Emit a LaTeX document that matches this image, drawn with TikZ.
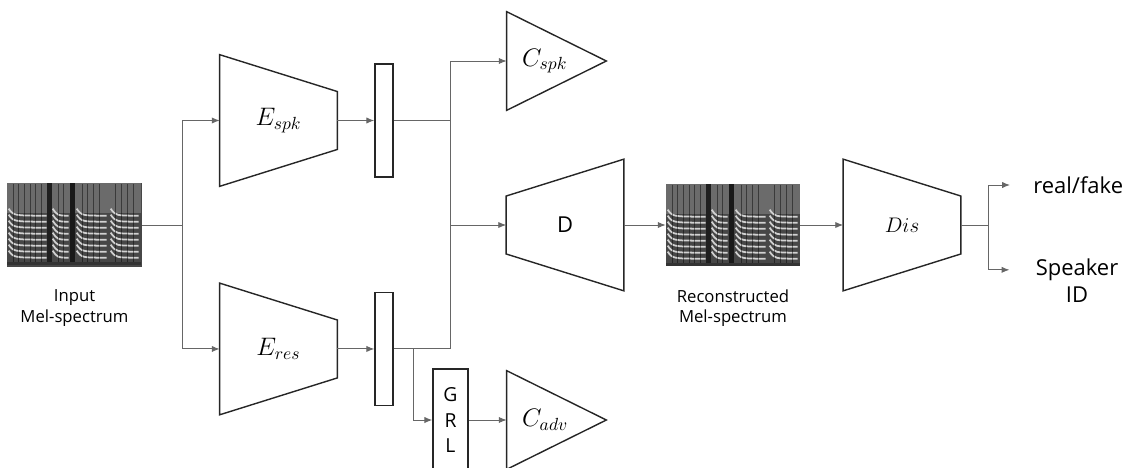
\documentclass[tikz,border=0pt]{standalone}
\usepackage{fontspec}
\setmainfont{Open Sans}
\usetikzlibrary{arrows.meta, calc, positioning}

\begin{document}
\begin{tikzpicture}[
        x = 0.02cm, y = -0.02cm,
        on grid,
        >= {Latex[length = 4.5pt, width = 3.6pt]},
        conn/.style = {draw = black!60, line width = 0.55pt},
        outline/.style = {draw = black!85, line width = 0.8pt},
        block/.style = {minimum width = 2.34cm, minimum height = 2.62cm, inner sep = 0pt,
                        font = \fontsize{14}{16}\selectfont},
        bar/.style = {draw = black!85, line width = 0.8pt, minimum width = 0.36cm,
                      minimum height = 2.26cm, inner sep = 0pt},
        tri/.style = {minimum height = 1.96cm, text width = 1.38cm, inner xsep = 0.3cm,
                      inner ysep = 0pt, align = left, font = \fontsize{14}{16}\selectfont},
        spec/.style = {fill = black!72, minimum width = 2.7cm, minimum height = 1.68cm, inner sep = 0pt},
        caption/.style = {font = \fontsize{9.5}{11.5}\selectfont, align = center},
        result/.style = {font = \fontsize{12.5}{15.5}\selectfont, align = center, inner sep = 0pt}
    ]

    \useasboundingbox (0,0) rectangle (1126,467);

    \node[spec] (inspec) at (74.5,225) {};
    \node[caption] (incap) [below = 1.66cm of inspec] {Input\\Mel-spectrum};

    \node[block] (espk) at (278.5,120.5) {$E_{spk}$};
    \node[block] (eres) [below = 4.57cm of espk] {$E_{res}$};

    \node[bar] (barspk) [right = 2.11cm of espk] {};
    \node[bar] (barres) [right = 2.11cm of eres] {};

    \coordinate (split) at (182,225);
    \coordinate (hub)   at (450,225);
    \coordinate (tap)   at (413,349);

    \node[tri] (cspk) at (556.5,61) {$C_{spk}$};
    \node[block, font = \fontsize{12.5}{15}\selectfont] (dec) at (565,225) {D};

    \node[bar, minimum width = 0.7cm, minimum height = 2.04cm, align = center,
          font = \fontsize{11}{14.7}\selectfont] (grl) at (450.5,420) {G\\R\\L};
    \node[tri] (cadv) at (556.5,420) {$C_{adv}$};

    \node[spec, minimum width = 2.68cm, minimum height = 1.64cm] (recspec) at (733,225) {};
    \node[caption] (reccap) [below = 1.66cm of recspec] {Reconstructed\\Mel-spectrum};

    \node[block, font = \fontsize{13}{15}\selectfont] (dis) at (902,225) {$Dis$};
    \coordinate (fork) at (988,225);

    \node[result, anchor = west] (real) at (1033,185) {real/fake};
    \node[result] (spkid) at (1077,281) {Speaker\\ID};

    % spectrogram texture
    \foreach \s in {inspec, recspec} {
        \begin{scope}[shift = {(\s.north west)}]
            \fill[black!58] (0,0) rectangle (134,30);
            \foreach \a/\b in {2/40, 46/62, 70/100, 104/132}
                \foreach \y [evaluate = \y as \o using 0.1 + (\y - 30)/95] in {33,39,...,77}
                    \draw[black!18, opacity = \o, line width = 1pt]
                        (\a,\y-7) .. controls (\a+5,\y) .. (\b,\y);
            \foreach \x in {7,12,18,24,29,35,52,57,76,81,87,93,109,115,121,127}
                \draw[black, opacity = 0.45, line width = 0.8pt] (\x,1) -- (\x,81);
            \fill[black!88] (40,0) rectangle (45,82);
            \fill[black!90] (63,0) rectangle (68,82);
            \fill[black!80] (0,79) rectangle (134,82);
        \end{scope}
    }

    % shapes
    \foreach \n in {espk, eres, dis}
        \draw[outline] (\n.north west) -- ($(\n.north east)!.28!(\n.south east)$)
            -- ($(\n.north east)!.72!(\n.south east)$) -- (\n.south west) -- cycle;
    \draw[outline] (dec.north east) -- (dec.south east)
        -- ($(dec.north west)!.72!(dec.south west)$) -- ($(dec.north west)!.28!(dec.south west)$) -- cycle;
    \foreach \n in {cspk, cadv}
        \draw[outline] (\n.north west) -- (\n.east) -- (\n.south west) -- cycle;

    % connectors
    \draw[conn] (inspec.east) -- (split);
    \draw[conn, ->] (split) |- (espk.west);
    \draw[conn, ->] (split) |- (eres.west);
    \draw[conn, ->] (espk.east) -- (barspk.west);
    \draw[conn, ->] (eres.east) -- (barres.west);
    \draw[conn] (barspk.east) -| (hub);
    \draw[conn] (barres.east) -| (hub);
    \draw[conn, ->] (hub) |- (cspk.west);
    \draw[conn, ->] (hub) -- (dec.west);
    \draw[conn, ->] (tap) |- (grl.west);
    \draw[conn, ->] (grl.east) -- (cadv.west);
    \draw[conn, ->] (dec.east) -- (recspec.west);
    \draw[conn, ->] (recspec.east) -- (dis.west);
    \draw[conn] (dis.east) -- (fork);
    \draw[conn, ->, shorten >= 0.46cm] (fork) |- (real.west);
    \draw[conn, ->, shorten >= 0.52cm] (fork) |- ($(spkid.north west)!.25!(spkid.south west)$);

\end{tikzpicture}
\end{document}
